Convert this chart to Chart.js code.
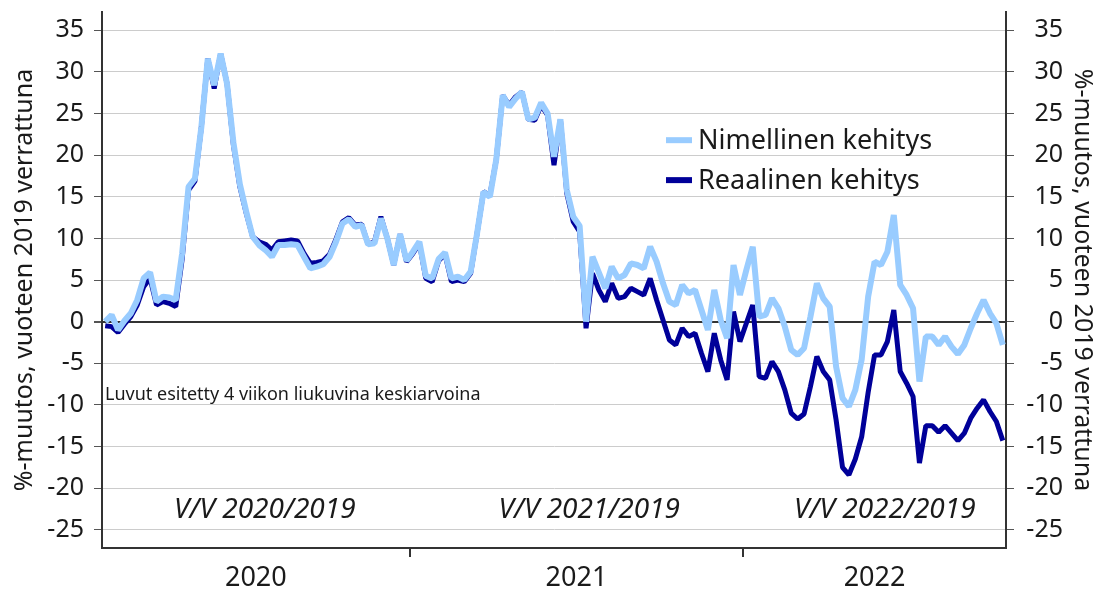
<!DOCTYPE html>
<html>
<head>
<meta charset="utf-8">
<script src="https://cdn.jsdelivr.net/npm/chart.js@4"></script>
<style>
  html, body { margin: 0; padding: 0; background: #fff; }
  #wrap { width: 1100px; height: 590px; }
</style>
</head>
<body>
<div id="wrap"><canvas id="chart-1" width="1100" height="590"></canvas></div>
<script>
// Weekly points per year (4-week moving averages)
const years = ['2020', '2021', '2022'];
const weeksPerYear = [48, 52, 41];
const firstWeek = [6, 1, 1];

// Nimellinen kehitys (%-change vs 2019)
const nominal = [
  0.0, 0.8, -1.0, 0.1, 1.0, 2.6, 5.2, 5.9, 2.4, 3.0,
  2.9, 2.6, 8.2, 16.2, 17.2, 23.4, 31.6, 28.4, 32.2, 28.6,
  21.5, 16.5, 13.2, 10.2, 9.2, 8.6, 7.8, 9.2, 9.2, 9.3,
  9.2, 7.8, 6.4, 6.6, 6.9, 7.8, 9.6, 11.8, 12.3, 11.4,
  11.6, 9.3, 9.4, 12.4, 10.0, 6.8, 10.5, 7.3,
  8.4, 9.6, 5.5, 5.2, 7.5, 8.3, 5.2, 5.4, 5.0, 6.0,
  10.6, 15.6, 15.0, 19.5, 27.2, 25.8, 26.8, 27.6, 24.3, 24.5,
  26.3, 25.0, 19.8, 24.3, 15.8, 12.6, 11.5, 0.0, 7.8, 5.9,
  4.0, 6.6, 5.2, 5.6, 7.0, 6.8, 6.4, 9.0, 7.2, 4.6,
  2.4, 2.0, 4.4, 3.4, 3.8, 1.4, -1.0, 3.8, 0.2, -2.0,
  6.8, 3.2,
  6.2, 9.0, 0.6, 0.8, 2.8, 1.6, -0.6, -3.4, -4.0, -3.2,
  0.6, 4.6, 2.8, 1.8, -5.4, -9.2, -10.2, -8.2, -4.5, 3.0,
  7.2, 6.8, 8.4, 12.8, 4.4, 3.2, 1.6, -7.2, -1.8, -1.8,
  -2.8, -1.8, -3.0, -3.9, -2.8, -0.8, 1.0, 2.6, 1.0, -0.2,
  -2.8
];

// Reaalinen kehitys (%-change vs 2019)
const real = [
  -0.5, -0.6, -1.3, -0.3, 0.6, 2.0, 4.2, 5.2, 2.0, 2.4,
  2.2, 1.8, 7.5, 15.8, 16.9, 23.4, 31.6, 28.0, 32.2, 28.6,
  21.2, 16.2, 13.0, 10.2, 9.6, 9.3, 8.6, 9.6, 9.7, 9.8,
  9.7, 8.2, 7.0, 7.1, 7.3, 8.1, 9.9, 12.0, 12.5, 11.6,
  11.7, 9.3, 9.6, 12.6, 10.0, 6.8, 10.5, 7.2,
  8.2, 9.4, 5.2, 4.8, 7.3, 8.1, 4.8, 5.0, 4.8, 5.8,
  10.6, 15.6, 15.2, 19.5, 27.2, 26.0, 27.0, 27.6, 24.3, 24.2,
  26.0, 24.8, 18.8, 24.3, 15.4, 12.0, 10.8, -0.8, 5.8, 3.8,
  2.4, 4.6, 2.8, 3.0, 4.0, 3.6, 3.2, 5.2, 2.6, 0.2,
  -2.2, -2.8, -0.8, -1.8, -1.4, -3.8, -6.0, -1.4, -4.6, -7.0,
  1.2, -2.4,
  -0.2, 2.0, -6.6, -6.8, -4.8, -6.0, -8.2, -11.0, -11.7, -11.1,
  -7.8, -4.2, -6.0, -7.0, -11.8, -17.5, -18.4, -16.5, -13.8, -8.5,
  -4.0, -4.0, -2.4, 1.4, -6.0, -7.4, -9.0, -17.0, -12.5, -12.5,
  -13.3, -12.5, -13.4, -14.3, -13.4, -11.6, -10.4, -9.4, -10.8, -12.0,
  -14.3
];

const yTicks = [-25, -20, -15, -10, -5, 0, 5, 10, 15, 20, 25, 30, 35];
const seriesNames = ['Nimellinen kehitys', 'Reaalinen kehitys'];
const periodLabels = ['V/V 2020/2019', 'V/V 2021/2019', 'V/V 2022/2019'];
const note = 'Luvut esitetty 4 viikon liukuvina keskiarvoina';
const axisTitle = '%-muutos, vuoteen 2019 verrattuna';

const labels = [];
years.forEach((y, k) => {
  for (let w = 0; w < weeksPerYear[k]; w++) labels.push(y + ' vk ' + (firstWeek[k] + w));
});

const FONT = '"Noto Sans", "Open Sans", sans-serif';
const TEXT = '#1a1a1a';

const overlay = {
  id: 'overlay',
  afterDraw(chart) {
    const { ctx, chartArea: a, scales: { x, y } } = chart;
    ctx.save();

    // year separators and year labels
    const bounds = [a.left];
    let idx = 0;
    weeksPerYear.forEach((n, k) => {
      idx += n;
      if (k < weeksPerYear.length - 1) {
        bounds.push((x.getPixelForValue(idx - 1) + x.getPixelForValue(idx)) / 2);
      }
    });
    bounds.push(a.right);
    ctx.strokeStyle = '#333';
    ctx.lineWidth = 2;
    for (let k = 1; k < bounds.length - 1; k++) {
      ctx.beginPath();
      ctx.moveTo(Math.round(bounds[k]), a.bottom);
      ctx.lineTo(Math.round(bounds[k]), a.bottom + 9);
      ctx.stroke();
    }
    ctx.fillStyle = TEXT;
    ctx.font = '27px ' + FONT;
    ctx.textAlign = 'center';
    ctx.textBaseline = 'middle';
    years.forEach((yr, k) => {
      ctx.fillText(yr, (bounds[k] + bounds[k + 1]) / 2, a.bottom + 30);
    });

    // period labels
    ctx.font = 'italic 28px ' + FONT;
    const vy = y.getPixelForValue(-22.6);
    const step = x.getPixelForValue(1) - x.getPixelForValue(0);
    [24.9, 75.5, 121.6].forEach((pos, k) => {
      ctx.fillText(periodLabels[k], x.getPixelForValue(0) + step * pos, vy);
    });

    // note
    ctx.font = '18px ' + FONT;
    ctx.textAlign = 'left';
    ctx.fillText(note, a.left + 3, y.getPixelForValue(-8.8));

    // legend
    ctx.font = '27px ' + FONT;
    const lx = a.left + 564;
    chart.data.datasets.forEach((ds, k) => {
      const ly = y.getPixelForValue(21.8 - k * 4.8);
      ctx.strokeStyle = ds.borderColor;
      ctx.lineWidth = 6;
      ctx.beginPath();
      ctx.moveTo(lx, ly);
      ctx.lineTo(lx + 26, ly);
      ctx.stroke();
      ctx.fillStyle = TEXT;
      ctx.fillText(ds.label, lx + 32, ly + 1);
    });
    ctx.restore();
  }
};

const noPad = (s) => { s.paddingTop = 0; s.paddingBottom = 0; };

const yCommon = {
  min: -27.2,
  max: 37.2,
  afterBuildTicks: (s) => { s.ticks = yTicks.map(v => ({ value: v })); },
  border: { display: true, color: '#333', width: 2 },
  title: { display: true, text: axisTitle, color: TEXT, font: { family: FONT, size: 25 } }
};

const ctx = document.getElementById('chart-1').getContext('2d');
const myChart = new Chart(ctx, {
  type: 'line',
  data: {
    labels: labels,
    datasets: [
      {
        label: seriesNames[0],
        data: nominal,
        borderColor: '#99ccff',
        borderWidth: 6,
        borderJoinStyle: 'bevel',
        pointRadius: 0,
        tension: 0,
        yAxisID: 'y'
      },
      {
        label: seriesNames[1],
        data: real,
        borderColor: '#000099',
        borderWidth: 5,
        borderJoinStyle: 'bevel',
        pointRadius: 0,
        tension: 0,
        yAxisID: 'y'
      }
    ]
  },
  options: {
    responsive: false,
    animation: false,
    layout: { padding: { top: 12, left: 0, right: 37, bottom: 0 } },
    plugins: { legend: { display: false }, tooltip: { enabled: false } },
    scales: {
      x: {
        type: 'category',
        offset: true,
        grid: { display: false },
        border: { display: true, color: '#333', width: 2 },
        ticks: { display: false },
        afterFit: (s) => { s.height = 42; s.paddingLeft = 0; s.paddingRight = 0; }
      },
      y: Object.assign({}, yCommon, {
        position: 'left',
        grid: {
          color: (c) => c.tick && c.tick.value === 0 ? '#333' : '#cccccc',
          lineWidth: (c) => c.tick && c.tick.value === 0 ? 2 : 1,
          tickColor: '#555',
          tickLength: 8
        },
        ticks: { color: TEXT, padding: 10, font: { family: FONT, size: 25 } },
        title: Object.assign({}, yCommon.title, { padding: { top: 10 } }),
        afterFit: (s) => { s.width = 102; noPad(s); }
      }),
      y2: Object.assign({}, yCommon, {
        position: 'right',
        grid: { drawOnChartArea: false, tickColor: '#555', tickLength: 8 },
        ticks: { color: TEXT, padding: 11, crossAlign: 'far', font: { family: FONT, size: 25 } },
        // title sits right of the tick labels (scale box ends at the labels)
        title: Object.assign({}, yCommon.title, { padding: { top: -34 } }),
        afterFit: (s) => { s.width = 57; noPad(s); }
      })
    }
  },
  plugins: [overlay]
});
</script>
</body>
</html>
